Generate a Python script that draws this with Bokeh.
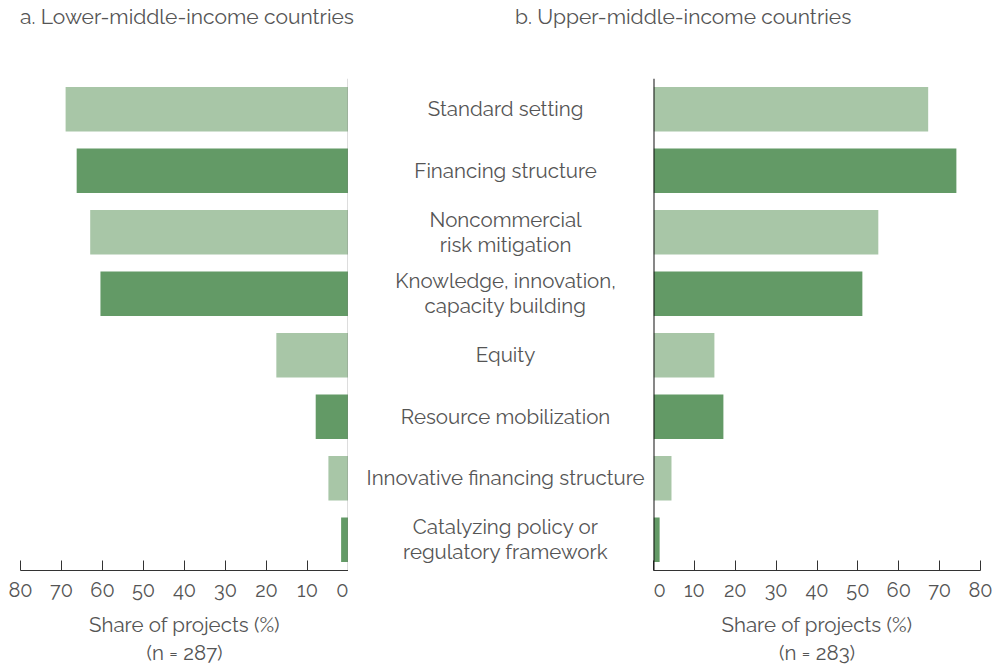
from bokeh.plotting import figure
from bokeh.layouts import row, column
from bokeh.models import Range1d, FixedTicker, Span, ColumnDataSource, Div
from bokeh.embed import file_html
from bokeh.resources import INLINE
from bokeh.core.properties import value

categories = [
    "Standard setting",
    "Financing structure",
    "Noncommercial\nrisk mitigation",
    "Knowledge, innovation,\ncapacity building",
    "Equity",
    "Resource mobilization",
    "Innovative financing structure",
    "Catalyzing policy or\nregulatory framework",
]
lower_middle = [69, 66.3, 63, 60.5, 17.6, 8, 4.9, 1.8]
upper_middle = [67.2, 74.1, 55, 51.1, 14.9, 17.1, 4.4, 1.5]
ticks = [0, 10, 20, 30, 40, 50, 60, 70, 80]
n_lower = 287
n_upper = 283
title_a = "a. Lower-middle-income countries"
title_b = "b. Upper-middle-income countries"

FONT = "Raleway, 'Open Sans', sans-serif"
TXT = "#555555"
LIGHT = "#a8c6a7"
DARK = "#639a66"
colors = [LIGHT if i % 2 == 0 else DARK for i in range(len(categories))]
idx = list(range(len(categories)))

y_range = Range1d(start=len(categories) - 0.5, end=-0.5)


def base(width_frame, xr, bl, br):
    p = figure(
        frame_width=width_frame, frame_height=492,
        x_range=xr, y_range=y_range,
        output_backend="svg", toolbar_location=None,
        min_border_left=bl, min_border_right=br,
        min_border_top=38, min_border_bottom=95,
        y_axis_location=None,
    )
    p.grid.visible = False
    p.outline_line_color = None
    p.background_fill_color = None
    p.border_fill_color = None
    return p


def style_axis(p, n):
    ax = p.xaxis[0]
    ax.ticker = FixedTicker(ticks=ticks)
    ax.major_tick_in = 10
    ax.major_tick_out = 0
    ax.minor_tick_in = 0
    ax.minor_tick_out = 0
    ax.axis_line_color = "#333333"
    ax.major_tick_line_color = "#333333"
    ax.axis_line_width = 1.2
    ax.major_label_text_font = FONT
    ax.major_label_text_font_size = "20px"
    ax.major_label_text_color = TXT
    ax.major_label_standoff = 11
    ax.axis_label = "Share of projects (%)\n(n = " + str(n) + ")"
    ax.axis_label_text_font = FONT
    ax.axis_label_text_font_size = "20.5px"
    ax.axis_label_text_font_style = "normal"
    ax.axis_label_text_color = TXT
    ax.axis_label_standoff = 13


def title_div(text, width, pad_left):
    html = ('<div style="font-family:%s;font-size:21px;color:%s;line-height:26px;'
            'padding-top:4px;padding-left:%dpx;white-space:nowrap;">%s</div>'
            % (FONT.replace("'", ""), TXT, pad_left, text))
    return Div(text=html, width=width, height=40, margin=0)


# Left panel
pl = base(328, Range1d(80, 0), 20, 0)
src_l = ColumnDataSource(dict(y=idx, v=lower_middle, c=colors))
pl.hbar(y="y", left=0, right="v", height=0.72, fill_color="c", line_color=None, source=src_l)
pl.add_layout(Span(location=0, dimension="height", line_color="#777777", line_width=1.5))
style_axis(pl, n_lower)

# Center labels
pc = base(305, Range1d(0, 1), 0, 0)
pc.xaxis.visible = False
src_c = ColumnDataSource(dict(x=[0.515] * len(categories), y=idx, t=categories))
pc.text(x="x", y="y", text="t", source=src_c, text_align="center", text_baseline="middle",
        text_font=value(FONT), text_font_size="20.5px", text_color=TXT, text_line_height=1.05)

# Right panel
pr = base(327, Range1d(0, 80), 0, 14)
src_r = ColumnDataSource(dict(y=idx, v=upper_middle, c=colors))
pr.hbar(y="y", left=0, right="v", height=0.72, fill_color="c", line_color=None, source=src_r)
pr.add_layout(Span(location=0, dimension="height", line_color="#111111", line_width=2))
style_axis(pr, n_upper)

titles = row(title_div(title_a, 495, 20), title_div(title_b, 499, 20), spacing=0)
layout = column(titles, row(pl, pc, pr, spacing=0), spacing=0)
open("out.html", "w").write(file_html(layout, INLINE))
